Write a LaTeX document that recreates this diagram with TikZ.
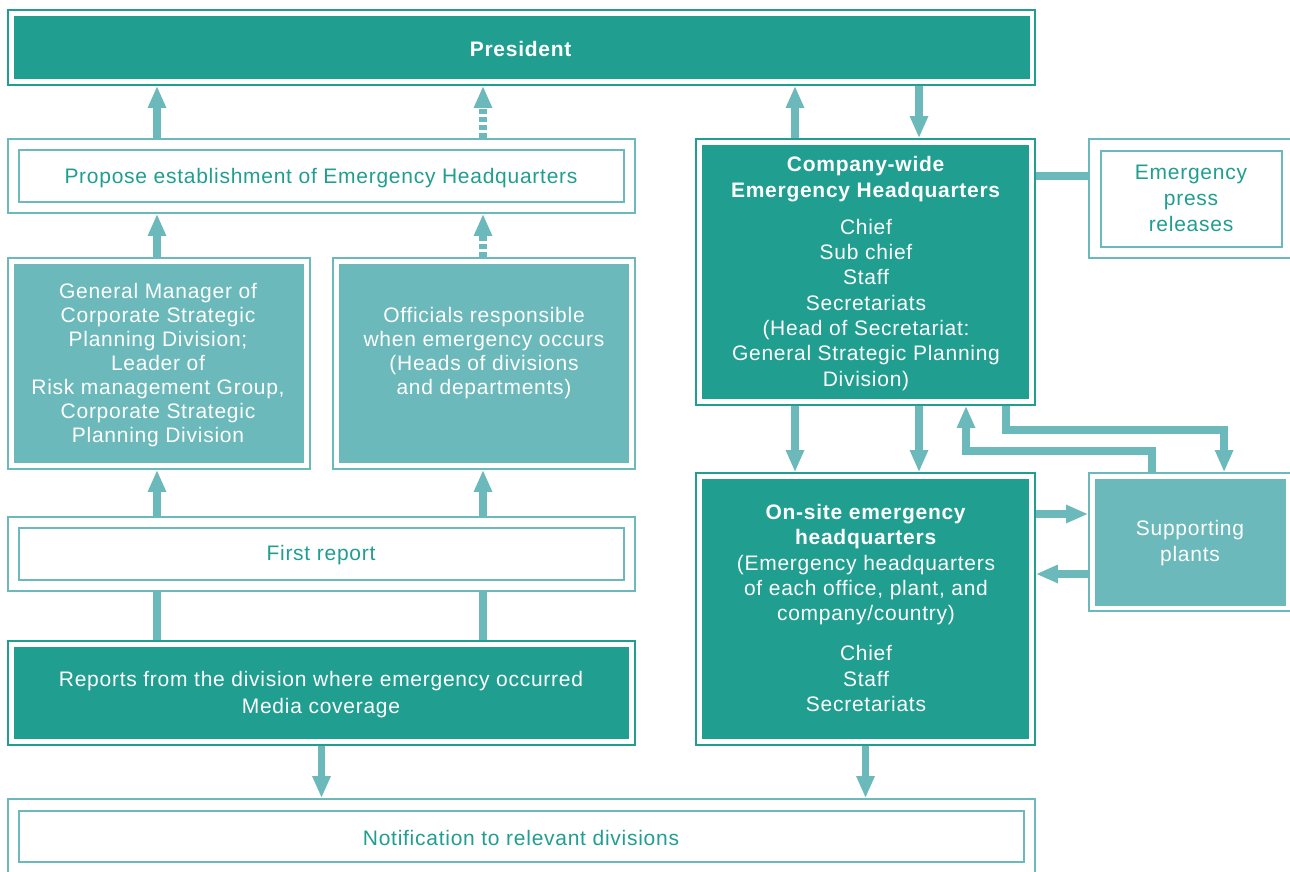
\documentclass[tikz,border=0pt]{standalone}
\usepackage{fontspec}
\setmainfont{Liberation Sans}[LetterSpace=3.5]
\usetikzlibrary{arrows.meta,fit,calc}
\definecolor{dk}{RGB}{32,158,144}
\definecolor{lt}{RGB}{107,185,186}
\begin{document}
\begin{tikzpicture}[x=1pt,y=-1pt,
  font=\fontsize{21}{25.3}\selectfont,
  outD/.style={draw=dk, line width=1.8pt, inner sep=0pt},
  outL/.style={draw=lt, line width=1.8pt, inner sep=0pt},
  inD/.style={fill=dk, inner sep=0pt},
  inW/.style={draw=lt, line width=1.8pt, inner sep=0pt},
  inL/.style={fill=lt, inner sep=0pt},
  txtW/.style={text=white, inner sep=0pt, align=center},
  txtT/.style={text=dk, inner sep=0pt, align=center},
  tight/.style={font=\fontsize{21}{24}\selectfont},
  ln/.style={draw=lt, line width=7.5pt, line join=miter},
  arr/.style={ln, -{Triangle[width=17pt,length=22pt]}},
  arrd/.style={arr, dash pattern=on 5pt off 3pt},
  ln8/.style={draw=lt, line width=8pt}]
\useasboundingbox (0,0) rectangle (1290,871);
\fill[white] (0,0) rectangle (1290,871);
\clip (0,0) rectangle (1290,871);

% President
\node[outD, fit={(8,10)(1035,85)}] (pres) {};
\node[inD, fit={(14,16)(1030,79)}] (presi) {};
\node[txtW] (prest) at (521,48.5) {\textbf{President}};

% Propose
\node[outL, fit={(8,139)(635,213)}] (prop) {};
\node[inW, fit={(19,150)(624,202)}] (propi) {};
\node[txtT] (propt) at (321,178.5) {Propose establishment of Emergency Headquarters};

% General manager
\node[outL, fit={(8,258)(310,469)}] (gm) {};
\node[inL, fit={(14,264)(304,463)}] (gmi) {};
\node[txtW, tight] (gmt) at (158,365.5) {General Manager of\\Corporate Strategic\\Planning Division;\\Leader of\\Risk management Group,\\Corporate Strategic\\Planning Division};

% Officials
\node[outL, fit={(333,258)(635,469)}] (off) {};
\node[inL, fit={(339,264)(629,463)}] (offi) {};
\node[txtW, tight] (offt) at (484,353.5) {Officials responsible\\when emergency occurs\\(Heads of divisions\\and departments)};

% First report
\node[outL, fit={(8,517)(635,591)}] (frst) {};
\node[inW, fit={(19,528)(624,580)}] (frsti) {};
\node[txtT] (frstt) at (321,555.5) {First report};

% Reports
\node[outD, fit={(8,641)(635,745)}] (rep) {};
\node[inD, fit={(14,647)(629,739)}] (repi) {};
\node[txtW, font=\fontsize{21}{27}\selectfont] (rept) at (321,695) {Reports from the division where emergency occurred\\Media coverage};

% Notification
\node[outL, fit={(8,799)(1035,890)}] (note) {};
\node[inW, fit={(19,811)(1024,862)}] (notei) {};
\node[txtT] (notet) at (521,837.5) {Notification to relevant divisions};

% Company-wide
\node[outD, fit={(696,139)(1035,405)}] (cw) {};
\node[inD, fit={(702,145)(1029,399)}] (cwi) {};
\node[txtW] (cwt) at (866,273.5) {\textbf{Company-wide}\\\textbf{Emergency Headquarters}\\[12pt]Chief\\Sub chief\\Staff\\Secretariats\\(Head of Secretariat:\\General Strategic Planning\\Division)};

% Press releases
\node[outL, fit={(1089,139)(1300,258)}] (press) {};
\node[inW, fit={(1101,151)(1282,247)}] (pressi) {};
\node[txtT, font=\fontsize{21}{26}\selectfont] (presst) at (1191,198.5) {Emergency\\press\\releases};

% On-site
\node[outD, fit={(696,473)(1035,745)}] (os) {};
\node[inD, fit={(702,479)(1029,739)}] (osi) {};
\node[txtW] (ost) at (866,608) {\textbf{On-site emergency}\\\textbf{headquarters}\\(Emergency headquarters\\of each office, plant, and\\company/country)\\[15pt]Chief\\Staff\\Secretariats};

% Supporting plants
\node[outL, fit={(1089,473)(1300,611)}] (sp) {};
\node[inL, fit={(1095,479)(1286,606)}] (spi) {};
\node[txtW, font=\fontsize{21}{26}\selectfont] (spt) at (1190,543.5) {Supporting\\plants};

% ---- connectors, left column
\coordinate (gmN) at ([xshift=-2pt]gm.north);
\coordinate (gmS) at ([xshift=-2pt]gm.south);
\coordinate (offN) at ([xshift=-1pt]off.north);
\coordinate (offS) at ([xshift=-1pt]off.south);
\draw[arr] (prop.north -| gmN) -- (gmN |- pres.south);
\draw[arrd] (prop.north -| offN) -- (offN |- pres.south);
\draw[arr] (gmN) -- (gmN |- prop.south);
\draw[arrd] (offN) -- (offN |- prop.south);
\draw[arr] (frst.north -| gmS) -- (gmS);
\draw[arr] (frst.north -| offS) -- (offS);
\draw[ln] (rep.north -| gmS) -- (frst.south -| gmS);
\draw[ln] (rep.north -| offS) -- (frst.south -| offS);
\draw[arr] (rep.south) -- (rep.south |- note.north);

% ---- connectors, right column
\coordinate (cwL) at ([xshift=-70.5pt]cw.north);
\coordinate (cwR) at ([xshift=53.5pt]cw.north);
\draw[arr] (cwL) -- (cwL |- pres.south);
\draw[arr] (cwR |- pres.south) -- (cwR);
\draw[arr] (cwL |- cw.south) -- (cwL |- os.north);
\draw[arr] (cwR |- cw.south) -- (cwR |- os.north);

\coordinate (cwP) at ([yshift=96pt]cw.east);
\draw[ln8] (cwP) -- (cwP -| press.west);

\coordinate (cwB) at ([xshift=140.5pt]cw.south);
\coordinate (cwA) at ([xshift=100.5pt]cw.south);
\coordinate (spA) at ([xshift=64pt]sp.north west);
\coordinate (spB) at ([xshift=136pt]sp.north west);
\draw[arr] (cwB) -- ++(0,24) -| (spB);
\draw[arr] (spA) -- ++(0,-21) -| (cwA);

\coordinate (osE1) at ([yshift=95pt]os.east);
\coordinate (osE2) at ([yshift=35pt]os.east);
\draw[arr] (osE1) -- (osE1 -| sp.west);
\draw[arr] (osE2 -| sp.west) -- (osE2);
\draw[arr] (os.south) -- (os.south |- note.north);
\end{tikzpicture}
\end{document}
